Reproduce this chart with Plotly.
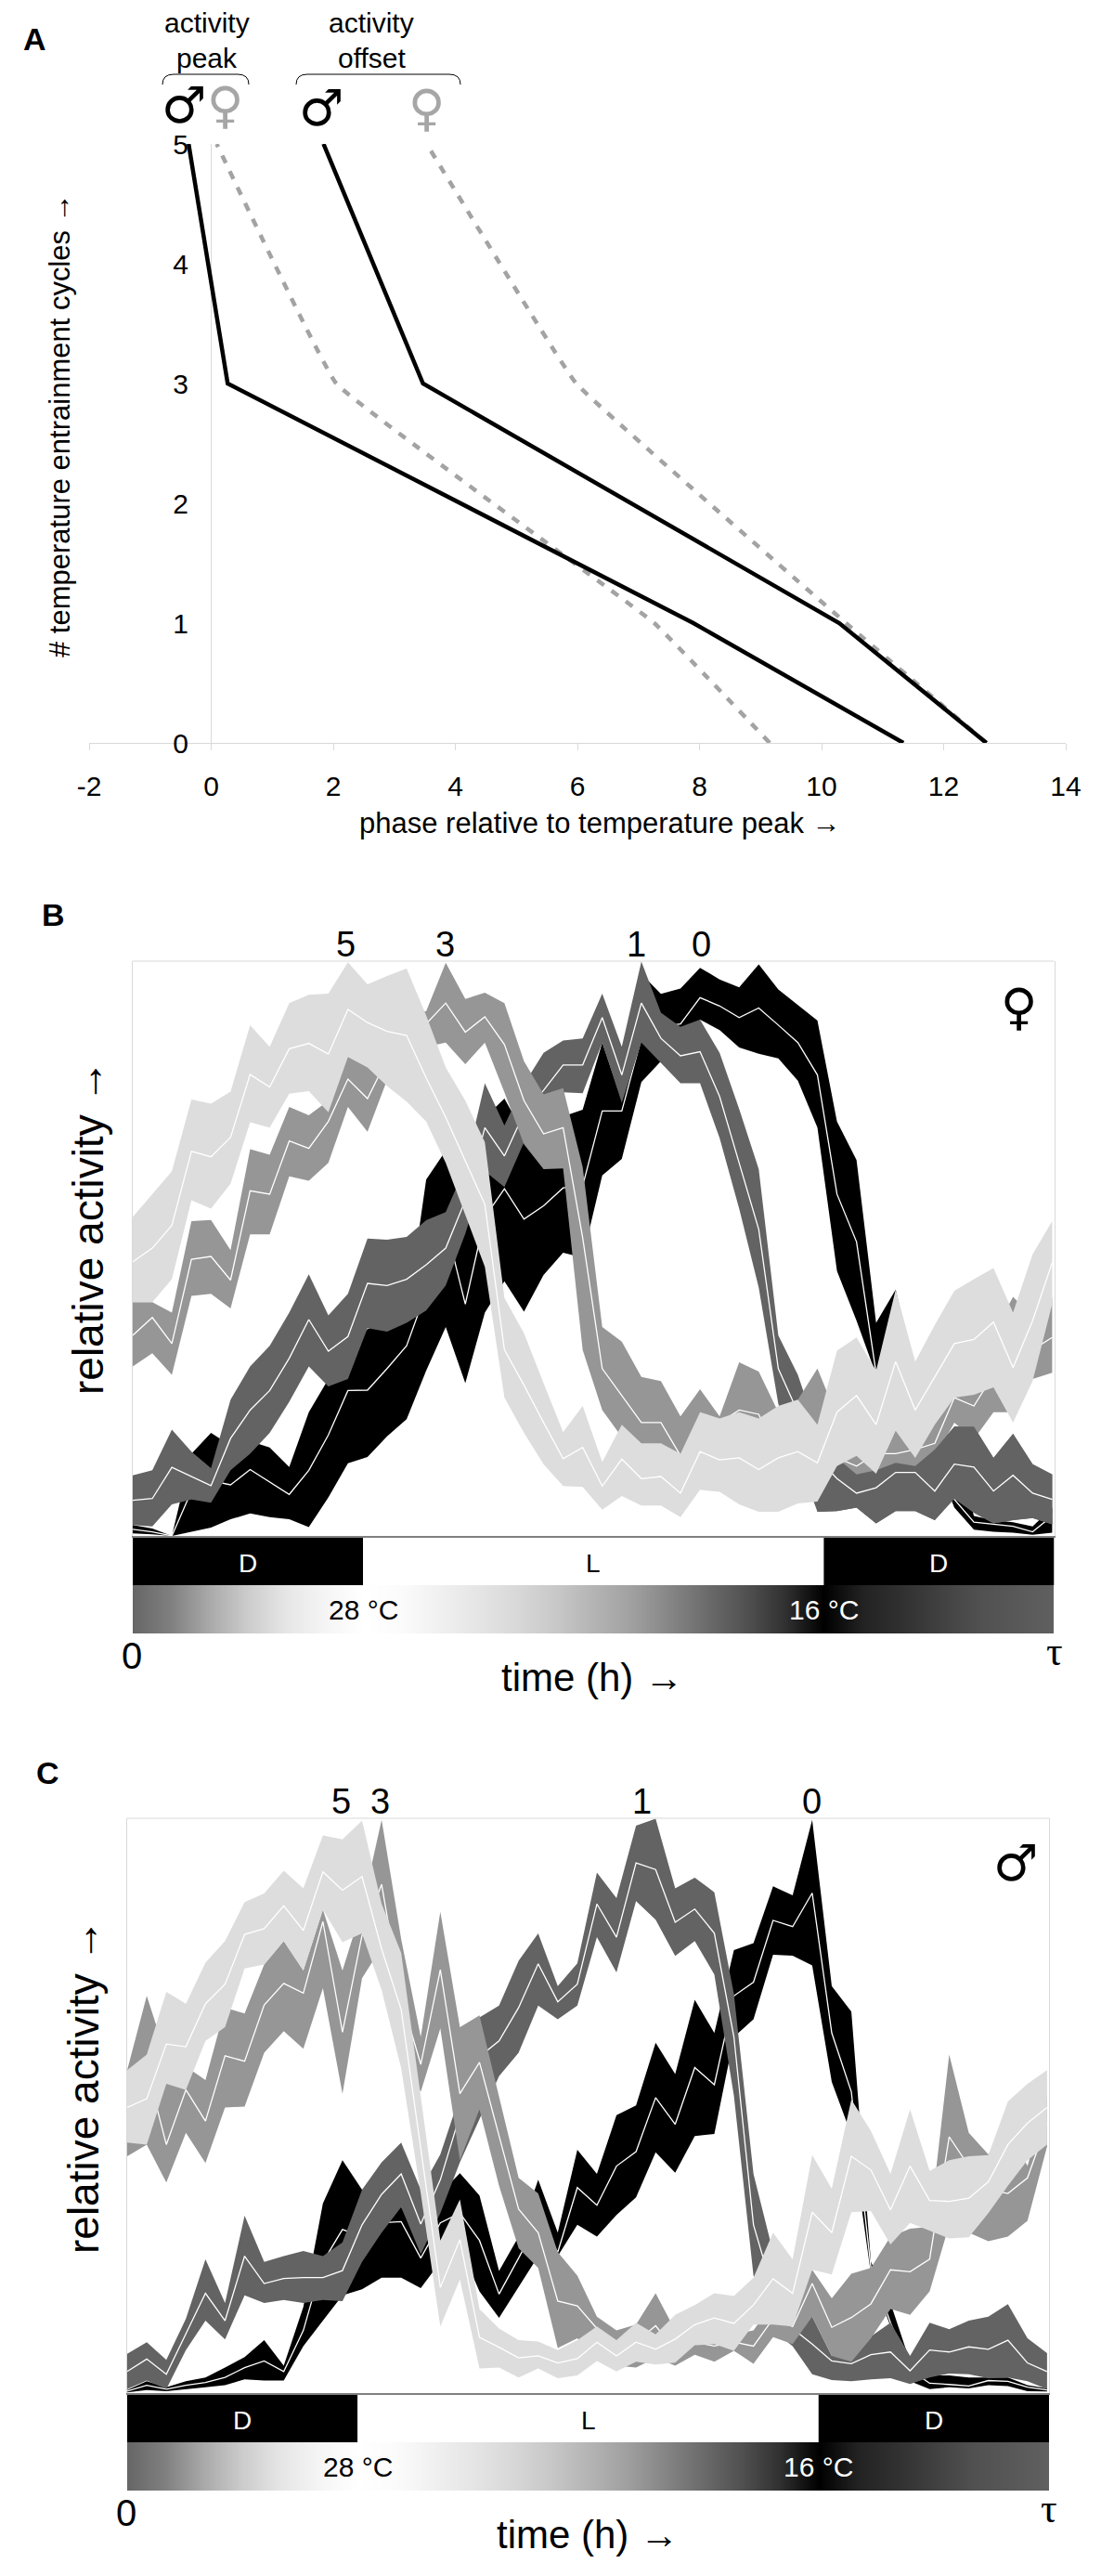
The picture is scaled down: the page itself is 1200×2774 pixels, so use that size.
import plotly.graph_objects as go

# Panel A: phase per entrainment cycle
cycles = [0, 1, 3, 5]
male_peak = [11.34, 7.9, 0.27, -0.37]
female_peak = [9.15, 7.26, 2.05, 0.09]
male_offset = [12.7, 10.29, 3.47, 1.84]
female_offset = [12.7, 10.4, 5.98, 3.53]
phase_ticks = [-2, 0, 2, 4, 6, 8, 10, 12, 14]
phase_labels = ["-2", "0", "2", "4", "6", "8", "10", "12", "14"]
cycle_ticks = [0, 1, 2, 3, 4, 5]

# half hour bins of the activity profiles, relative activity in arbitrary units
bins = list(range(48))

# Panel B, female
b0_mean = [16,10,0,108,133,123,160,130,100,158,243,350,351,403,458,588,748,558,768,836,763,795,838,843,1023,1023,1198,1226,1233,1296,1276,1248,1271,1230,1188,1110,823,708,392,338,268,223,88,33,28,23,10,48]
b0_upper = [26,18,0,198,248,218,228,213,166,298,378,438,498,518,528,858,928,788,1008,1053,968,998,1010,1026,1188,1048,1353,1305,1318,1368,1340,1321,1376,1316,1278,1241,998,905,513,593,390,268,218,48,38,33,23,68]
b0_lower = [6,4,0,10,20,40,54,45,40,21,93,175,190,240,281,398,503,368,538,613,540,628,682,670,868,908,1093,1143,1188,1243,1218,1176,1161,1150,1096,983,638,518,388,288,238,188,68,15,10,8,3,8]

b1_mean = [86,90,165,143,121,235,303,350,428,521,445,480,608,603,618,653,693,808,983,915,1018,1073,1134,1134,1248,1110,1283,1198,1156,1166,1058,898,738,403,298,188,138,103,116,153,153,108,173,166,108,146,103,88]
b1_upper = [146,158,256,203,163,328,408,458,538,630,531,583,716,713,720,760,780,888,1090,988,1088,1163,1193,1198,1306,1178,1383,1260,1226,1243,1163,1028,883,483,388,248,188,148,158,176,168,208,263,263,188,246,173,148]
b1_lower = [26,23,76,88,80,158,198,248,323,408,360,378,500,492,513,543,603,728,878,840,948,1018,1068,1066,1188,1043,1188,1138,1090,1090,958,788,598,318,188,58,60,68,30,60,60,38,90,56,30,38,43,28]

b3_mean = [483,526,463,666,673,616,831,823,951,933,998,1100,1053,1148,1203,1233,1283,1213,1250,1183,1048,968,983,718,403,338,273,273,193,248,273,303,293,188,198,218,188,168,198,198,208,223,333,313,388,428,448,478]
b3_upper = [563,563,538,758,761,688,931,918,1033,1013,1048,1155,1143,1188,1258,1263,1380,1293,1308,1283,1143,1063,1078,888,503,468,383,373,288,353,288,418,396,298,328,403,288,228,238,256,258,308,428,408,488,576,528,573]
b3_lower = [408,440,388,578,583,548,726,726,866,855,898,1033,973,1098,1148,1178,1188,1136,1188,1068,943,883,885,448,303,238,208,218,163,228,238,198,198,138,98,88,108,88,118,118,148,188,273,233,298,298,378,393]

b5_mean = [660,693,748,926,913,960,1111,1081,1173,1186,1160,1268,1236,1215,1205,1103,1008,903,798,448,363,273,186,213,120,185,138,143,103,203,183,188,160,188,203,176,298,338,268,420,303,383,463,473,515,405,518,658]
b5_upper = [768,823,878,1051,1041,1070,1230,1178,1283,1303,1306,1381,1328,1348,1366,1253,1128,1048,948,573,488,368,250,313,178,268,223,223,198,298,283,298,283,313,328,268,446,478,398,593,420,508,590,618,645,538,678,758]
b5_lower = [563,563,618,808,788,848,996,983,1065,1071,1020,1153,1128,1083,1046,998,898,773,648,333,248,173,120,118,63,96,73,73,45,111,106,76,58,58,78,83,168,193,150,253,188,268,333,340,358,273,373,558]

# Panel C, male
c0_mean = [5,20,10,20,27,40,65,82,55,160,335,418,400,435,438,345,435,460,390,253,345,440,360,525,480,580,617,755,687,832,788,1015,1050,1208,1192,1278,920,770,320,180,60,25,22,18,32,30,15,8]
c0_upper = [8,30,15,30,40,65,92,135,70,220,485,595,520,510,475,390,510,562,505,312,400,545,410,622,560,710,735,895,815,1005,920,1132,1150,1295,1272,1465,1040,975,335,230,80,45,45,40,40,40,20,12]
c0_lower = [2,8,5,10,15,20,35,32,32,120,185,250,265,295,295,268,335,375,260,192,270,350,350,430,400,455,500,615,563,657,662,910,955,1120,1118,1093,795,660,305,170,30,10,15,12,20,18,5,4]

c1_mean = [55,87,48,150,255,185,350,280,293,295,295,313,430,508,560,432,545,710,860,900,985,1097,1000,1045,1250,1165,1355,1338,1203,1237,1175,910,430,260,165,125,82,75,98,105,57,110,105,118,112,135,77,55]
c1_upper = [100,130,85,190,342,230,453,335,350,363,350,385,520,590,640,520,610,760,960,990,1105,1175,1040,1098,1330,1265,1450,1468,1290,1317,1280,1020,560,360,220,195,95,120,145,180,95,180,163,185,195,227,140,102]
c1_lower = [10,32,10,110,185,137,250,230,238,230,238,235,335,410,475,355,460,590,700,810,870,990,955,990,1165,1075,1257,1210,1117,1155,1070,760,300,160,120,48,33,30,35,38,23,40,50,48,38,40,30,10]

c3_mean = [715,830,635,775,695,862,848,992,1047,1022,1205,922,1170,1300,1010,840,1082,765,845,660,470,410,235,223,165,120,130,172,110,130,120,130,120,190,170,280,168,193,228,315,310,342,655,580,520,510,550,690]
c3_upper = [825,1015,860,835,800,985,970,1095,1155,1080,1235,1080,1240,1465,1160,910,1230,935,965,760,550,510,360,300,195,160,175,255,160,150,140,150,160,230,220,315,242,305,320,400,420,425,865,665,610,680,580,760]
c3_lower = [605,635,538,665,588,730,732,870,925,880,1035,765,1060,1140,860,770,932,595,725,530,370,320,115,140,90,70,65,90,70,98,80,108,75,143,125,195,95,80,140,215,200,260,430,410,388,400,440,630]

c5_mean = [730,752,892,885,995,1045,1172,1187,1245,1182,1332,1285,1320,1135,980,630,270,392,142,117,90,95,77,88,130,95,130,112,138,175,192,178,225,292,255,462,410,605,570,468,580,492,490,498,540,635,690,730]
c5_upper = [825,865,1025,995,1100,1155,1255,1277,1335,1290,1425,1415,1463,1250,1125,760,390,495,215,165,135,132,110,135,170,135,180,150,200,225,255,248,295,410,342,608,522,750,670,560,725,568,595,605,608,745,790,825]
c5_lower = [640,635,790,775,900,935,1085,1095,1155,1080,1235,1152,1175,1030,830,510,170,290,63,65,40,63,38,45,82,55,80,73,78,122,125,108,175,175,170,315,303,462,465,380,435,415,395,398,460,530,595,635]

# Light regime and the temperature strip shade per hour, shared by B and C
light_start = [0, 6, 18]
light_hours = [6, 12, 6]
light_colors = ["#000000", "#ffffff", "#000000"]
light_labels = ["D", "L", "D"]
hours = list(range(25))
temperature_shade = [102,128,170,204,230,245,255,251,240,229,216,200,180,160,133,106,80,48,0,34,48,64,80,88,96]

WIDTH, HEIGHT = 1200, 2774
BLACK, DARK, MID, LIGHT = "#000000", "#636363", "#969696", "#dddddd"
FRAME = "#d9d9d9"
FONT = "Liberation Sans"
PAGE_MARGIN = 8  # the page body keeps its default margin around the figure


def X(px):
    return (px - PAGE_MARGIN) / WIDTH


def Y(py):
    return 1 - (py - PAGE_MARGIN) / HEIGHT


def label(fig, x, y, text, size, color="#000000", family=FONT, bold=False, angle=0):
    if bold:
        text = f"<b>{text}</b>"
    fig.add_annotation(x=X(x), y=Y(y), xref="paper", yref="paper", text=text, showarrow=False,
                       xanchor="center", yanchor="middle", textangle=angle,
                       font=dict(size=size, color=color, family=family))


def band(fig, axes, upper, lower, mean, color, start=0):
    assert len(upper) == len(lower) == len(mean) == len(bins)
    xs = bins[start:]
    fig.add_trace(go.Scatter(x=xs + xs[::-1], y=upper[start:] + lower[start:][::-1], mode="lines", fill="toself",
                             fillcolor=color, line=dict(width=0), hoverinfo="skip", showlegend=False, **axes))
    fig.add_trace(go.Scatter(x=xs, y=mean[start:], mode="lines", line=dict(color="#ffffff", width=1.3),
                             hoverinfo="skip", showlegend=False, **axes))


def hidden_axis(**kwargs):
    return dict(visible=False, fixedrange=True, **kwargs)


def add_panel(fig, first, left, right, top, bottom, ymax, series, tail_over):
    """Activity profile with the light and temperature strips below it."""
    axis_ids = [str(first), str(first + 1), str(first + 2)]
    chart = dict(xaxis="x" + axis_ids[0], yaxis="y" + axis_ids[0])
    for upper, lower, mean, color in series:
        band(fig, chart, upper, lower, mean, color)
        if color == MID:
            # the dark band runs over the mid grey one during the last dark phase
            upper_d, lower_d, mean_d, color_d = series[1]
            band(fig, chart, upper_d, lower_d, mean_d, color_d, start=tail_over)

    fig.layout["xaxis" + axis_ids[0]] = dict(domain=[X(left), X(right)], range=[0, 47.1], anchor="y" + axis_ids[0],
                                             showgrid=False, zeroline=False, showticklabels=False, ticks="",
                                             showline=True, linecolor="#808080", linewidth=1.5, fixedrange=True)
    fig.layout["yaxis" + axis_ids[0]] = dict(domain=[Y(bottom), Y(top)], range=[0, ymax], anchor="x" + axis_ids[0],
                                             showgrid=False, zeroline=False, showticklabels=False, ticks="",
                                             showline=True, mirror=True, linecolor=FRAME, linewidth=1, fixedrange=True)
    fig.add_shape(type="line", xref="paper", yref="paper", x0=X(left), x1=X(right), y0=Y(top), y1=Y(top),
                  line=dict(color=FRAME, width=1))

    # light regime strip
    strip_top, strip_mid, strip_bottom = bottom + 2, bottom + 53, bottom + 105
    fig.add_trace(go.Bar(x=light_hours, base=light_start, y=[0.5, 0.5, 0.5], width=1, orientation="h",
                         marker=dict(color=light_colors, line=dict(width=0)), hoverinfo="skip", showlegend=False,
                         xaxis="x" + axis_ids[1], yaxis="y" + axis_ids[1]))
    fig.layout["xaxis" + axis_ids[1]] = hidden_axis(domain=[X(left), X(right)], range=[0, 24], anchor="y" + axis_ids[1])
    fig.layout["yaxis" + axis_ids[1]] = hidden_axis(domain=[Y(strip_mid), Y(strip_top)], range=[0, 1], anchor="x" + axis_ids[1])

    # temperature strip
    fig.add_trace(go.Heatmap(x=hours, y=[0, 1], z=[temperature_shade, temperature_shade], zmin=0, zmax=255, zsmooth="best",
                             colorscale=[[0, "#000000"], [1, "#ffffff"]], showscale=False,
                             hoverinfo="skip", xaxis="x" + axis_ids[2], yaxis="y" + axis_ids[2]))
    fig.layout["xaxis" + axis_ids[2]] = hidden_axis(domain=[X(left), X(right)], range=[0, 24], anchor="y" + axis_ids[2])
    fig.layout["yaxis" + axis_ids[2]] = hidden_axis(domain=[Y(strip_bottom), Y(strip_mid)], range=[0, 1], anchor="x" + axis_ids[2])

    width = right - left
    for start, hrs, text, color in zip(light_start, light_hours, light_labels, ["#ffffff", "#000000", "#ffffff"]):
        label(fig, left + width * (start + hrs / 2) / 24, strip_top + 27, text, 28, color)
    label(fig, left + width / 4, strip_mid + 26, "28 °C", 30)
    label(fig, left + width * 3 / 4, strip_mid + 26, "16 °C", 30, "#ffffff")
    label(fig, left - 1, strip_bottom + 24, "0", 40)
    label(fig, right, strip_bottom + 19, "τ", 44, family="Liberation Serif")
    label(fig, (left + right) / 2 - 1, strip_bottom + 47, "time (h) →", 42)


fig = go.Figure()

# Panel A
peak_axes = dict(xaxis="x", yaxis="y")
for phases, color, dash, shape in [
    (female_peak, "#a3a3a3", "9px,10px", "spline"),
    (female_offset, "#a3a3a3", "9px,10px", "spline"),
    (male_peak, "#000000", "solid", "linear"),
    (male_offset, "#000000", "solid", "linear"),
]:
    fig.add_trace(go.Scatter(x=phases, y=cycles, mode="lines", cliponaxis=False, hoverinfo="skip", showlegend=False,
                             line=dict(color=color, width=4.5, dash=dash, shape=shape, smoothing=0.2), **peak_axes))

fig.update_layout(
    xaxis=dict(domain=[X(96), X(1148)], range=[-2, 14], tickvals=phase_ticks, ticktext=phase_labels, ticks="outside",
               ticklen=7, tickcolor=FRAME, showline=True, linecolor=FRAME, linewidth=1, showgrid=False, zeroline=True,
               zerolinecolor=FRAME, zerolinewidth=1, tickfont=dict(size=30, family=FONT, color="#000000"),
               ticklabelstandoff=13, anchor="y", fixedrange=True, automargin=False),
    yaxis=dict(domain=[Y(800), Y(155)], range=[0, 5], tickvals=cycle_ticks, ticks="", showline=False, showgrid=False,
               zeroline=False, anchor="free", position=X(228), ticklabelstandoff=25,
               tickfont=dict(size=30, family=FONT, color="#000000"), fixedrange=True, automargin=False),
)

# Panel B and C, later series are drawn over earlier ones
add_panel(fig, 2, 143, 1135.5, 1035, 1654, 1384, [
    (b0_upper, b0_lower, b0_mean, BLACK),
    (b1_upper, b1_lower, b1_mean, DARK),
    (b3_upper, b3_lower, b3_mean, MID),
    (b5_upper, b5_lower, b5_mean, LIGHT),
], 35)
add_panel(fig, 5, 137, 1130, 1958, 2577, 1469, [
    (c0_upper, c0_lower, c0_mean, BLACK),
    (c1_upper, c1_lower, c1_mean, DARK),
    (c3_upper, c3_lower, c3_mean, MID),
    (c5_upper, c5_lower, c5_mean, LIGHT),
], 47)

# Panel A texts and brackets
label(fig, 37, 42, "A", 34, bold=True)
label(fig, 57, 985, "B", 34, bold=True)
label(fig, 51, 1909, "C", 34, bold=True)
label(fig, 223, 25, "activity", 30)
label(fig, 223, 62, "peak", 30)
label(fig, 400, 25, "activity", 30)
label(fig, 400, 62, "offset", 30)
label(fig, 646, 886, "phase relative to temperature peak →", 31)
label(fig, 65, 458, "# temperature entrainment cycles →", 31, angle=-90)
for x0, x1 in [(175, 268), (319, 496)]:
    fig.add_shape(type="path", xref="paper", yref="paper", line=dict(color="#000000", width=1),
                  path=f"M {X(x0)} {Y(91)} Q {X(x0)} {Y(80)} {X(x0 + 12)} {Y(80)} L {X(x1 - 12)} {Y(80)} Q {X(x1)} {Y(80)} {X(x1)} {Y(91)}")
label(fig, 198, 114, "♂", 54, family="DejaVu Sans")
label(fig, 243, 114, "♀", 54, "#a6a6a6", family="DejaVu Sans")
label(fig, 346, 117, "♂", 54, family="DejaVu Sans")
label(fig, 460, 117, "♀", 54, "#a6a6a6", family="DejaVu Sans")

# Panel B and C texts
label(fig, 95, 1322, "relative activity →", 46, angle=-90)
label(fig, 90, 2247, "relative activity →", 46, angle=-90)
for x, text in [(373, "5"), (479, "3"), (686, "1"), (755, "0")]:
    label(fig, x, 1017, text, 38)
for x, text in [(367, "5"), (409, "3"), (691, "1"), (874, "0")]:
    label(fig, x, 1940, text, 38)
label(fig, 1098, 1084, "♀", 54, family="DejaVu Sans")
label(fig, 1094, 2006, "♂", 54, family="DejaVu Sans")

fig.update_layout(width=WIDTH, height=HEIGHT, margin=dict(l=0, r=0, t=0, b=0, autoexpand=False),
                  paper_bgcolor="#ffffff", plot_bgcolor="rgba(0,0,0,0)", showlegend=False, barmode="overlay")

fig.write_html("out.html")
